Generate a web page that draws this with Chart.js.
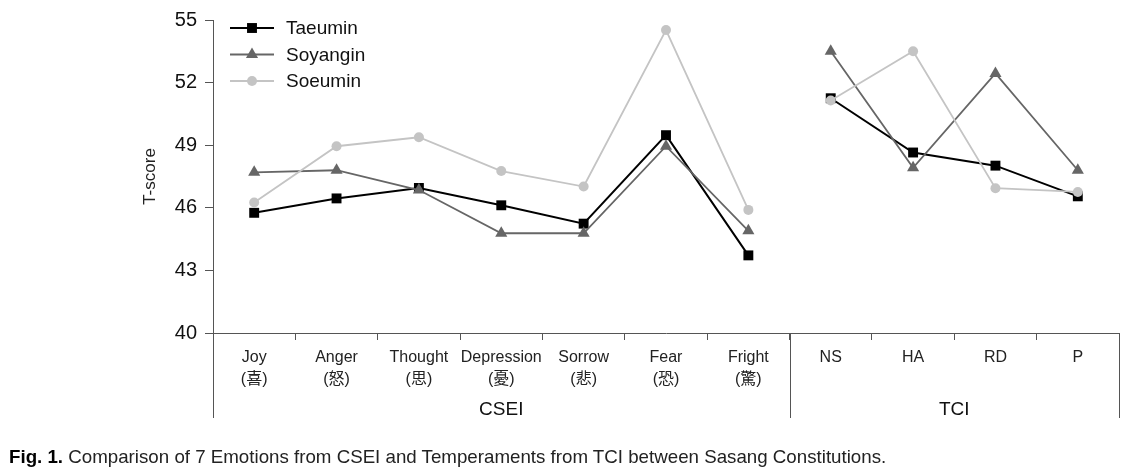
<!DOCTYPE html>
<html>
<head>
<meta charset="utf-8">
<script src="https://cdn.jsdelivr.net/npm/chart.js@4"></script>
<style>
    html, body { margin: 0; padding: 0; background: #fff; }
    #wrap { position: relative; width: 1139px; height: 474px; }
    #chart { position: absolute; left: 0; top: 0; }
    #caption {
        position: absolute; left: 9px; top: 446px;
        font-family: 'Liberation Sans', Arial, sans-serif;
        font-size: 19px; color: #222; white-space: nowrap;
        transform-origin: left top; transform: scaleX(0.985);
    }
    #caption b { color: #000; }
</style>
</head>
<body>
<div id="wrap">
    <canvas id="chart" width="1139" height="474"></canvas>
    <div id="caption"><b>Fig. 1.</b> Comparison of 7 Emotions from CSEI and Temperaments from TCI between Sasang Constitutions.</div>
</div>
<script>
const categorias = [
    ["Joy", "(喜)"], ["Anger", "(怒)"], ["Thought", "(思)"], ["Depression", "(憂)"],
    ["Sorrow", "(悲)"], ["Fear", "(恐)"], ["Fright", "(驚)"],
    "NS", "HA", "RD", "P"
];
const grupos = ["CSEI", "TCI"];
const tamGrupos = [7, 4];

const taeumin  = [45.76, 46.45, 46.95, 46.12, 45.24, 49.48, 43.72, 51.25, 48.65, 48.02, 46.55];
const soyangin = [47.70, 47.80, 46.85, 44.78, 44.78, 48.95, 44.90, 53.50, 47.92, 52.44, 47.80];
const soeumin  = [46.25, 48.95, 49.38, 47.76, 47.02, 54.52, 45.90, 51.14, 53.50, 46.94, 46.76];

const yTicks = [40, 43, 46, 49, 52, 55];

const FUENTE = "'Liberation Sans', 'Noto Sans CJK KR', Arial, sans-serif";
const EJE = "#555";

// ultimo indice de cada grupo (ahi se corta la linea)
const finesGrupo = [];
tamGrupos.reduce((acc, n) => { finesGrupo.push(acc + n - 1); return acc + n; }, 0);

// leyenda y etiquetas de grupo dibujadas a mano
const extras = {
    id: "extras",
    afterDraw(chart) {
        const ctx = chart.ctx;
        const x = chart.scales.x;
        const area = chart.chartArea;

        // lineas verticales largas y etiquetas de grupo
        const bordes = [area.left];
        finesGrupo.forEach(i => {
            if (i + 1 < categorias.length) {
                bordes.push((x.getPixelForValue(i) + x.getPixelForValue(i + 1)) / 2);
            } else {
                bordes.push(area.right);
            }
        });
        ctx.save();
        ctx.strokeStyle = EJE;
        ctx.lineWidth = 1;
        bordes.forEach(b => {
            const bx = Math.round(b) + 0.5;
            ctx.beginPath();
            ctx.moveTo(bx, area.bottom);
            ctx.lineTo(bx, 418);
            ctx.stroke();
        });
        ctx.fillStyle = "#111";
        ctx.font = "19px " + FUENTE;
        ctx.textAlign = "center";
        ctx.textBaseline = "middle";
        grupos.forEach((g, i) => {
            ctx.fillText(g, (bordes[i] + bordes[i + 1]) / 2, 410);
        });

        // leyenda
        ctx.font = "19px " + FUENTE;
        ctx.textAlign = "left";
        chart.data.datasets.forEach((ds, i) => {
            const ly = 28 + i * 26.5;
            ctx.strokeStyle = ds.borderColor;
            ctx.lineWidth = ds.borderWidth;
            ctx.beginPath();
            ctx.moveTo(230, ly);
            ctx.lineTo(274, ly);
            ctx.stroke();
            ctx.fillStyle = ds.pointBackgroundColor;
            ctx.strokeStyle = ds.pointBackgroundColor;
            Chart.helpers.drawPoint(ctx, {
                pointStyle: ds.pointStyle,
                radius: ds.pointRadius,
                borderWidth: 0,
                rotation: 0
            }, 252, ly);
            ctx.fillStyle = "#111";
            ctx.fillText(ds.label, 286, ly + 1);
        });
        ctx.restore();
    }
};

function serie(label, data, color, estilo, radio, ancho, orden) {
    return {
        label: label,
        data: data,
        order: orden,
        borderColor: color,
        backgroundColor: color,
        pointBackgroundColor: color,
        pointBorderColor: color,
        pointBorderWidth: 0,
        pointStyle: estilo,
        pointRadius: radio,
        pointHoverRadius: radio,
        borderWidth: ancho,
        tension: 0,
        segment: {
            borderColor: s => finesGrupo.includes(s.p0DataIndex) ? "rgba(0,0,0,0)" : color
        }
    };
}

new Chart(document.getElementById("chart"), {
    type: "line",
    data: {
        labels: categorias,
        datasets: [
            serie("Taeumin", taeumin, "#000000", "rect", 7, 2, 2),
            serie("Soyangin", soyangin, "#666666", "triangle", 7, 1.8, 1),
            serie("Soeumin", soeumin, "#c4c4c4", "circle", 5, 1.8, 0)
        ]
    },
    options: {
        responsive: false,
        animation: false,
        events: [],
        layout: { padding: { left: 140, right: 20, top: 18, bottom: 0 } },
        plugins: {
            legend: { display: false },
            tooltip: { enabled: false }
        },
        scales: {
            x: {
                type: "category",
                offset: true,
                afterFit(scale) { scale.height = 141; },
                border: { display: true, color: EJE, width: 1 },
                grid: { offset: true, drawOnChartArea: false, drawTicks: true, tickLength: 7, color: EJE },
                ticks: {
                    color: "#222",
                    font: { family: FUENTE, size: 16, lineHeight: 1.4 },
                    padding: 6,
                    maxRotation: 0,
                    autoSkip: false
                }
            },
            y: {
                min: 40,
                max: 55,
                afterFit(scale) { scale.width = 73; },
                afterBuildTicks(scale) { scale.ticks = yTicks.map(v => ({ value: v })); },
                border: { display: true, color: EJE, width: 1 },
                grid: { drawOnChartArea: false, drawTicks: true, tickLength: 8, color: EJE },
                title: {
                    display: true,
                    text: "T-score",
                    color: "#222",
                    font: { family: FUENTE, size: 17 },
                    padding: 0
                },
                ticks: {
                    color: "#111",
                    font: { family: FUENTE, size: 20 },
                    padding: 8
                }
            }
        }
    },
    plugins: [extras]
});
</script>
</body>
</html>
